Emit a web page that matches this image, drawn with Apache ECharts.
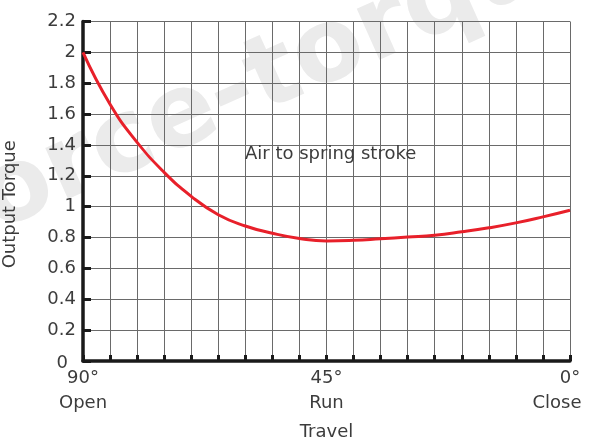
<!DOCTYPE html>
<html><head><meta charset="utf-8">
<script src="https://cdn.jsdelivr.net/npm/echarts@6/dist/echarts.min.js"></script>
<style>html,body{margin:0;padding:0;background:#fff}#c{width:598px;height:440px}</style>
</head><body><div id="c"></div>
<script>
// Travel angle (degrees) and output torque
const travelDeg = [90, 85, 80, 75, 70, 65, 60, 55, 50, 45, 40, 35, 30, 25, 20, 15, 10, 5, 0];
const outputTorque = [2.0, 1.664, 1.417, 1.222, 1.067, 0.948, 0.875, 0.828, 0.794, 0.778, 0.782, 0.792, 0.803, 0.815, 0.837, 0.863, 0.895, 0.934, 0.977];
// X tick labels shown
const xLabelValues = [90, 45, 0];
const xLabelDeg = ['90°', '45°', '0°'];
const xLabelWord = ['Open', 'Run', 'Close'];
const xName = 'Travel';
const yName = 'Output Torque';
const annotation = 'Air to spring stroke';
const watermark = 'force-torque';

const FONT = '"DejaVu Sans", sans-serif';
const W = 'normal';
const TXT = '#3c3c3c';

const chart = echarts.init(document.getElementById('c'), null, {renderer: 'canvas'});
const points = travelDeg.map((d, i) => [d, outputTorque[i]]);

chart.setOption({
  animation: false,
  backgroundColor: '#fff',
  grid: {left: 83, right: 28, top: 21.5, bottom: 79, containLabel: false, outerBoundsMode: 'none'},
  graphic: [
    {
      type: 'text', z: -10, silent: true,
      x: 274, y: 78, rotation: 0.42,
      style: {text: watermark, fill: '#ebebeb', font: 'bold 102px "DejaVu Sans", sans-serif',
              textAlign: 'center', textVerticalAlign: 'middle'}
    },
    {
      type: 'text', z: 10, silent: true,
      x: 245, y: 154,
      style: {text: annotation, fill: TXT, fontSize: 18, fontFamily: FONT, fontWeight: W,
              textAlign: 'left', textVerticalAlign: 'middle'}
    }
  ],
  xAxis: {
    type: 'value', inverse: true, min: 0, max: 90, interval: 5,
    name: xName, nameLocation: 'middle', nameGap: 62,
    nameTextStyle: {fontSize: 18, fontFamily: FONT, fontWeight: W, color: TXT},
    axisLine: {show: true, onZero: false, lineStyle: {color: '#1a1a1a', width: 3.5}},
    axisTick: {show: true, inside: true, length: 6, lineStyle: {color: '#1a1a1a', width: 3}},
    splitLine: {show: true, lineStyle: {color: '#6a6a6a', width: 1}},
    axisLabel: {
      margin: 5, interval: 0, showMinLabel: true, showMaxLabel: true,
      formatter: v => {
        const i = xLabelValues.indexOf(v);
        if (i < 0) return '';
        if (v === 0) return '{a|' + xLabelDeg[i] + '}\n{c|' + xLabelWord[i] + '}';
        return '{a|' + xLabelDeg[i] + '}\n{b|' + xLabelWord[i] + '}';
      },
      rich: {
        a: {fontSize: 18, lineHeight: 25, fontFamily: FONT, fontWeight: W, color: TXT},
        b: {fontSize: 18, lineHeight: 25, fontFamily: FONT, fontWeight: W, color: TXT},
        c: {fontSize: 18, lineHeight: 25, fontFamily: FONT, fontWeight: W, color: TXT, padding: [0, 26, 0, 0]}
      }
    }
  },
  yAxis: {
    type: 'value', position: 'left', min: 0, max: 2.2, interval: 0.2,
    name: yName, nameLocation: 'middle', nameGap: 64, nameRotate: 90,
    nameTextStyle: {fontSize: 18, fontFamily: FONT, fontWeight: W, color: TXT, padding: [0, 26, 0, 0]},
    axisLine: {show: true, onZero: false, lineStyle: {color: '#1a1a1a', width: 3.5}},
    axisTick: {show: true, inside: true, length: 8, lineStyle: {color: '#1a1a1a', width: 3}},
    splitLine: {show: true, lineStyle: {color: '#6a6a6a', width: 1}},
    axisLabel: {
      margin: 7, fontSize: 18, fontFamily: FONT, fontWeight: W, color: TXT,
      formatter: v => v === 0 ? '{z|0}' : String(+v.toFixed(1)),
      rich: {z: {fontSize: 18, fontFamily: FONT, fontWeight: W, color: TXT, padding: [5, 8, 0, 0]}}
    }
  },
  series: [{
    type: 'line', data: points, smooth: true, symbol: 'none', z: 5,
    lineStyle: {color: '#e8202a', width: 3}
  }]
});
</script></body></html>
